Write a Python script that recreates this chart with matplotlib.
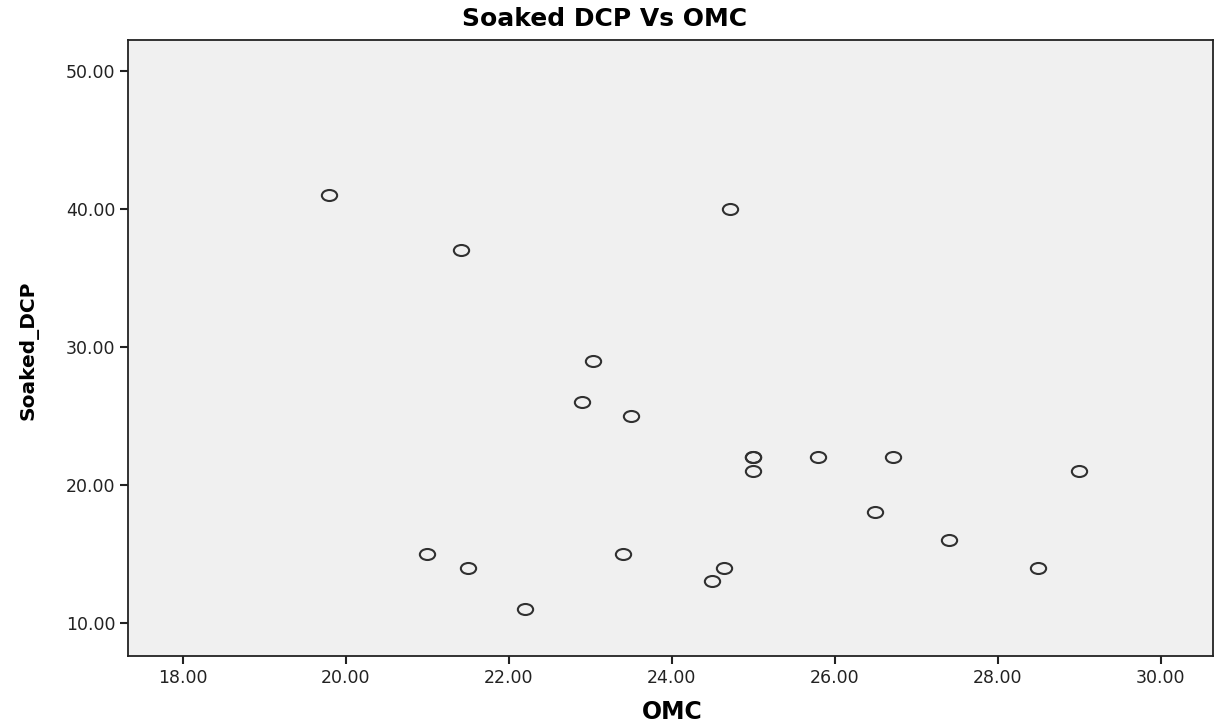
import matplotlib
matplotlib.use("Agg")
from matplotlib import pyplot as plt
from matplotlib.path import Path
import numpy

omc = [19.8, 21.42, 24.72, 23.03, 22.9, 23.5, 25.0, 25.0, 25.0, 25.8, 26.72,
       26.5, 27.4, 29.0, 28.5, 21.0, 21.5, 22.2, 23.4, 24.5, 24.64]
soaked_dcp = [41, 37, 40, 29, 26, 25, 22, 22, 21, 22, 22,
              18, 16, 21, 14, 15, 14, 11, 15, 13, 14]

xticks = [18, 20, 22, 24, 26, 28, 30]
yticks = [10, 20, 30, 40, 50]

plt.rcParams['font.family'] = ['DejaVu Sans']

# SPSS draws slightly flattened circles
circ = Path.unit_circle()
oval = Path(circ.vertices * numpy.array([1.0, 0.72]), circ.codes)

fig = plt.figure(figsize=(12.19, 7.26), dpi=100)
ax = fig.add_axes([0.105, 0.0964, 0.89, 0.849])
ax.set_facecolor('#f0f0f0')

ax.plot(omc, soaked_dcp, linestyle='none', marker=oval, markersize=11,
        markerfacecolor='none', markeredgecolor='#303030', markeredgewidth=1.5)

ax.set_xlim(17.33, 30.64)
ax.set_ylim(7.6, 52.25)
ax.set_xticks(xticks)
ax.set_yticks(yticks)
ax.set_xticklabels(["%.2f" % v for v in xticks])
ax.set_yticklabels(["%.2f" % v for v in yticks])
ax.tick_params(direction='out', length=6, width=1.5, labelsize=12.5,
               colors='#222222', pad=3)
for s in ax.spines.values():
    s.set_linewidth(1.3)
    s.set_color('#222222')

fig.text(605 / 1219, 1 - 19 / 726, "Soaked DCP Vs OMC", fontsize=18,
         fontweight='bold', ha='center', va='center')
fig.text(672 / 1219, 1 - 712 / 726, "OMC", fontsize=17,
         fontweight='bold', ha='center', va='center')
fig.text(29 / 1219, 1 - 350 / 726, "Soaked_DCP", fontsize=14.5,
         fontweight='bold', ha='center', va='center', rotation=90)

fig.savefig("out.png", dpi=100)
